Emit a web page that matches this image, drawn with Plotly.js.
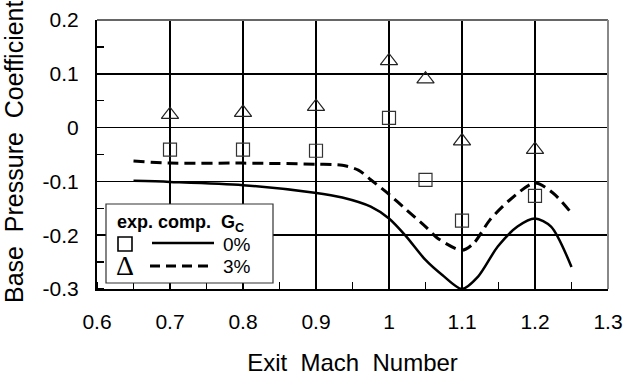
<!DOCTYPE html>
<html>
<head>
<meta charset="utf-8">
<script src="https://cdn.plot.ly/plotly-3.0.1.min.js"></script>
<style>html,body{margin:0;padding:0;background:#fff;}#chart{width:624px;height:381px;}</style>
</head>
<body>
<div id="chart"></div>
<script>
// Experimental points
const expMach = [0.7, 0.8, 0.9, 1.0, 1.05, 1.1, 1.2];
const exp0 = [-0.041, -0.041, -0.043, 0.018, -0.097, -0.173, -0.127];
const exp3 = [0.024, 0.028, 0.039, 0.124, 0.090, -0.025, -0.041];

// Computed curves
const comp0Mach = [0.65, 0.7, 0.8, 0.898, 0.936, 0.975, 1.0, 1.024, 1.05, 1.073, 1.1, 1.122, 1.149, 1.176, 1.2, 1.222, 1.25];
const comp0 = [-0.099, -0.101, -0.107, -0.121, -0.130, -0.147, -0.169, -0.203, -0.246, -0.274, -0.300, -0.277, -0.221, -0.184, -0.169, -0.184, -0.259];
const comp3Mach = [0.65, 0.7, 0.8, 0.9, 0.936, 0.958, 0.975, 1.0, 1.024, 1.05, 1.067, 1.1, 1.116, 1.138, 1.165, 1.2, 1.225, 1.25];
const comp3 = [-0.062, -0.066, -0.066, -0.068, -0.070, -0.079, -0.097, -0.124, -0.153, -0.184, -0.206, -0.228, -0.215, -0.172, -0.135, -0.103, -0.122, -0.159];

const xTicks = [0.6, 0.7, 0.8, 0.9, 1, 1.1, 1.2, 1.3];
const xTickText = ['0.6', '0.7', '0.8', '0.9', '1', '1.1', '1.2', '1.3'];
const yTicks = [-0.3, -0.2, -0.1, 0, 0.1, 0.2];
const yTickText = ['-0.3', '-0.2', '-0.1', '0', '0.1', '0.2'];

const FONT = 'Liberation Sans, Arial, sans-serif';
// plot-area pixel helpers for legend decorations (paper coords)
const L = 97, R = 608, T = 20, B = 289;
const px = v => (v - L) / (R - L);
const py = v => (B - v) / (B - T);

const traces = [
  {x: comp0Mach, y: comp0, mode: 'lines', line: {color: '#000', width: 2.5, shape: 'spline', smoothing: 0.8}, showlegend: false},
  {x: comp3Mach, y: comp3, mode: 'lines', line: {color: '#000', width: 3, dash: '11px,6px', shape: 'spline', smoothing: 0.8}, showlegend: false},
  {x: expMach, y: exp0, mode: 'markers', marker: {symbol: 'square-open', size: 13, color: '#333', line: {width: 1.2, color: '#333'}}, showlegend: false},
  {x: expMach, y: exp3, mode: 'markers', marker: {symbol: 'triangle-up-open', size: 15, color: '#222', line: {width: 1.2, color: '#222'}}, showlegend: false}
];

const layout = {
  width: 624, height: 381,
  margin: {l: L, r: 624 - R, t: T, b: 381 - B, pad: 0},
  paper_bgcolor: '#fff', plot_bgcolor: '#fff',
  showlegend: false,
  font: {family: FONT, color: '#000', size: 20},
  xaxis: {
    range: [0.6, 1.3], tickvals: xTicks, ticktext: xTickText,
    showgrid: true, gridcolor: '#000', gridwidth: 1.5,
    showline: true, linecolor: '#000', linewidth: 2,
    zeroline: false, ticks: '', tickfont: {size: 21, family: FONT},
    ticklabelstandoff: 13,
    minor: {dtick: 0.05, tick0: 0.6, ticks: 'inside', ticklen: 7, tickwidth: 1.5, tickcolor: '#000', showgrid: false},
    title: {text: 'Exit\u00a0\u00a0Mach\u00a0\u00a0Number', font: {size: 24, family: FONT}, standoff: 22}
  },
  yaxis: {
    range: [-0.3, 0.2], tickvals: yTicks, ticktext: yTickText,
    showgrid: true, gridcolor: '#000', gridwidth: 1.5,
    showline: true, linecolor: '#000', linewidth: 2,
    zeroline: false, ticks: '', tickfont: {size: 21, family: FONT},
    ticklabelstandoff: 12,
    minor: {dtick: 0.05, tick0: -0.3, ticks: 'inside', ticklen: 7, tickwidth: 1.5, tickcolor: '#000', showgrid: false}
  },
  shapes: [
    {type: 'line', xref: 'paper', yref: 'paper', x0: 0, x1: 1, y0: 1, y1: 1, line: {color: '#666', width: 2}, layer: 'above'},
    {type: 'line', xref: 'paper', yref: 'paper', x0: 1, x1: 1, y0: 0, y1: 1, line: {color: '#888', width: 2}, layer: 'above'},
    {type: 'rect', xref: 'paper', yref: 'paper', x0: px(106), x1: px(273), y0: py(283), y1: py(204), fillcolor: '#fff', line: {color: '#333', width: 1.2}, layer: 'above'},
    {type: 'rect', xref: 'paper', yref: 'paper', x0: px(118), x1: px(132), y0: py(251), y1: py(237), fillcolor: 'rgba(0,0,0,0)', line: {color: '#000', width: 1.6}, layer: 'above'},
    {type: 'line', xref: 'paper', yref: 'paper', x0: px(152), x1: px(214), y0: py(243), y1: py(243), line: {color: '#000', width: 2.5}, layer: 'above'},
    {type: 'line', xref: 'paper', yref: 'paper', x0: px(150), x1: px(212), y0: py(266), y1: py(266), line: {color: '#000', width: 3, dash: '10px,6px'}, layer: 'above'}
  ],
  annotations: [
    {xref: 'paper', yref: 'paper', x: px(14), y: py(152), text: 'Base\u00a0\u00a0Pressure\u00a0\u00a0Coefficient', textangle: -90, showarrow: false, font: {size: 25, family: FONT}, xanchor: 'center', yanchor: 'middle'},
    {xref: 'paper', yref: 'paper', x: px(115), y: py(223), text: '<b>exp.\u00a0comp.\u00a0\u00a0G<sub>C</sub></b>', showarrow: false, font: {size: 18, family: FONT}, xanchor: 'left', yanchor: 'middle'},
    {xref: 'paper', yref: 'paper', x: px(221), y: py(244), text: '0%', showarrow: false, font: {size: 19, family: FONT}, xanchor: 'left', yanchor: 'middle'},
    {xref: 'paper', yref: 'paper', x: px(221), y: py(266), text: '3%', showarrow: false, font: {size: 19, family: FONT}, xanchor: 'left', yanchor: 'middle'},
    {xref: 'paper', yref: 'paper', x: px(125), y: py(265), text: '\u0394', showarrow: false, font: {size: 28, family: 'Liberation Serif, Times New Roman, serif'}, xanchor: 'center', yanchor: 'middle'}
  ]
};

Plotly.newPlot('chart', traces, layout, {displayModeBar: false, staticPlot: true});
</script>
</body>
</html>
